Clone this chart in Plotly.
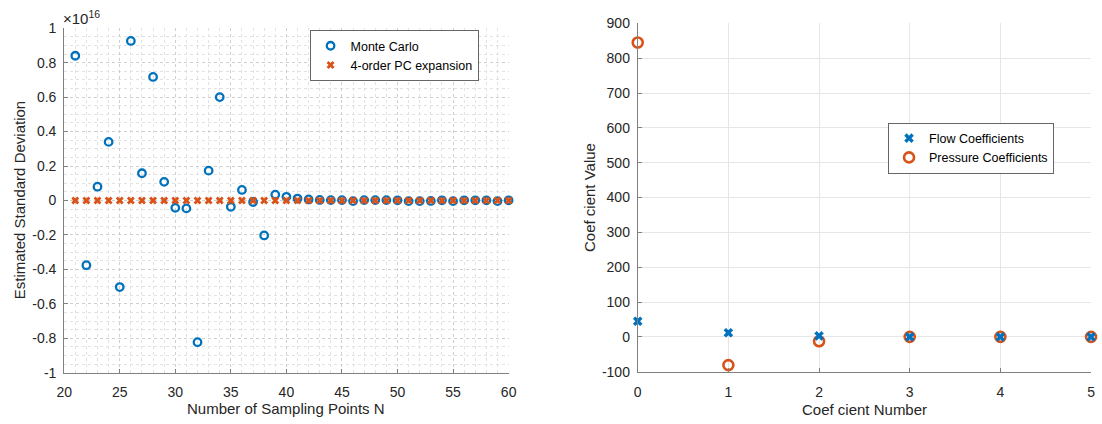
import plotly.graph_objects as go

# ---------------- data ----------------
n_points = list(range(21, 61))
mc_std_e16 = [0.84, -0.376, 0.08, 0.34, -0.503, 0.926, 0.158, 0.717, 0.108, -0.043,
              -0.046, -0.823, 0.173, 0.60, -0.037, 0.061, -0.009, -0.203, 0.034, 0.021,
              0.011, 0.006, 0.003, 0.002, 0.002, -0.004, 0.002, 0.002, 0.002, 0.001,
              -0.004, -0.004, -0.003, 0.001, -0.004, 0.001, 0.001, 0.001, -0.004, 0.001]
pc_std_e16 = [0.0] * 40

coef_number = [0, 1, 2, 3, 4, 5]
flow_coef = [45, 12, 3, 0, 0, 0]
pressure_coef = [845, -81, -12.5, 0, 0, 0]

left_xticks = [20, 25, 30, 35, 40, 45, 50, 55, 60]
left_yticks = [-1, -0.8, -0.6, -0.4, -0.2, 0, 0.2, 0.4, 0.6, 0.8, 1]
left_ytext = ["-1", "-0.8", "-0.6", "-0.4", "-0.2", "0", "0.2", "0.4", "0.6", "0.8", "1"]
right_xticks = [0, 1, 2, 3, 4, 5]
right_yticks = [-100, 0, 100, 200, 300, 400, 500, 600, 700, 800, 900]
right_ytext = [str(v) for v in right_yticks]

BLUE = "#0072BD"
ORANGE = "#D95319"
FONT = "Liberation Sans, Arial, sans-serif"
TXT = "#262626"
W, H = 1102, 424

fig = go.Figure()

fig.add_trace(go.Scatter(
    x=n_points, y=mc_std_e16, mode="markers", name="Monte Carlo",
    marker=dict(symbol="circle-open", size=7.5, color=BLUE, line=dict(width=2.3, color=BLUE)),
    xaxis="x", yaxis="y", legend="legend", cliponaxis=False))
fig.add_trace(go.Scatter(
    x=n_points, y=pc_std_e16, mode="markers", name="4-order PC expansion",
    marker=dict(symbol="x", size=7, color=ORANGE, line=dict(width=0)),
    xaxis="x", yaxis="y", legend="legend", cliponaxis=False))

fig.add_trace(go.Scatter(
    x=coef_number, y=pressure_coef, mode="markers", name="Pressure Coefficients",
    marker=dict(symbol="circle-open", size=10, color=ORANGE, line=dict(width=2.6, color=ORANGE)),
    xaxis="x2", yaxis="y2", legend="legend2", legendrank=2, cliponaxis=False))
fig.add_trace(go.Scatter(
    x=coef_number, y=flow_coef, mode="markers", name="Flow Coefficients",
    marker=dict(symbol="x", size=8.5, color=BLUE, line=dict(width=0)),
    xaxis="x2", yaxis="y2", legend="legend2", legendrank=1, cliponaxis=False))

axis_common = dict(
    showline=True, linecolor="#808080", linewidth=1, ticks="inside", ticklen=4,
    tickcolor="#808080", tickfont=dict(family=FONT, size=14, color=TXT),
    zeroline=False, mirror=False)

fig.update_layout(
    width=W, height=H, margin=dict(l=0, r=0, t=0, b=0),
    paper_bgcolor="white", plot_bgcolor="white",
    font=dict(family=FONT, color=TXT),
    xaxis=dict(domain=[57 / W, 508 / W], range=[20, 60], tickvals=left_xticks,
               showgrid=True, gridcolor="#cfcfcf", griddash="dot", gridwidth=1,
               minor=dict(dtick=1, showgrid=True, gridcolor="#e2e2e2", griddash="dot", ticks=""),
               anchor="y", ticklabelstandoff=7, **axis_common),
    yaxis=dict(domain=[1 - 379 / H, 1 - 21 / H], range=[-1, 1], tickvals=left_yticks,
               ticktext=left_ytext,
               showgrid=True, gridcolor="#cfcfcf", griddash="dot", gridwidth=1,
               minor=dict(dtick=0.05, showgrid=True, gridcolor="#e2e2e2", griddash="dot", ticks=""),
               anchor="x", ticklabelstandoff=4, **axis_common),
    xaxis2=dict(domain=[639 / W, 1099 / W], range=[0, 5], tickvals=right_xticks,
                showgrid=True, gridcolor="#e6e6e6", gridwidth=1,
                anchor="y2", ticklabelstandoff=7, **axis_common),
    yaxis2=dict(domain=[1 - 378 / H, 1 - 16 / H], range=[-100, 900], tickvals=right_yticks,
                ticktext=right_ytext,
                showgrid=True, gridcolor="#e6e6e6", gridwidth=1,
                anchor="x2", ticklabelstandoff=4, **axis_common),
    legend=dict(x=306 / W, y=1 - 23 / H, xanchor="left", yanchor="top",
                bgcolor="white", bordercolor="#666666", borderwidth=1,
                font=dict(family=FONT, size=12.5, color="#000000"),
                tracegroupgap=0, itemwidth=30),
    legend2=dict(x=893 / W, y=1 - 119 / H, xanchor="left", yanchor="top",
                 bgcolor="white", bordercolor="#666666", borderwidth=1,
                 font=dict(family=FONT, size=12.5, color="#000000"),
                 tracegroupgap=0, itemwidth=30),
    showlegend=True,
)

annotations = [
    dict(text="×10<sup>16</sup>", x=54 / W, y=1 - 22 / H, xref="paper", yref="paper",
         xanchor="left", yanchor="bottom", showarrow=False,
         font=dict(family=FONT, size=15, color=TXT)),
    dict(text="Estimated Standard Deviation", x=12 / W, y=1 - 200 / H, xref="paper", yref="paper",
         xanchor="center", yanchor="middle", textangle=-90, showarrow=False,
         font=dict(family=FONT, size=15, color=TXT)),
    dict(text="Number of Sampling Points N", x=282 / W, y=1 - 416 / H, xref="paper", yref="paper",
         xanchor="center", yanchor="middle", showarrow=False,
         font=dict(family=FONT, size=15, color=TXT)),
    dict(text="Coef cient Value", x=590 / W, y=1 - 197 / H, xref="paper", yref="paper",
         xanchor="center", yanchor="middle", textangle=-90, showarrow=False,
         font=dict(family=FONT, size=15, color=TXT)),
    dict(text="Coef cient Number", x=869 / W, y=1 - 417 / H, xref="paper", yref="paper",
         xanchor="center", yanchor="middle", showarrow=False,
         font=dict(family=FONT, size=15, color=TXT)),
]
fig.update_layout(annotations=annotations)

fig.write_html("out.html")
